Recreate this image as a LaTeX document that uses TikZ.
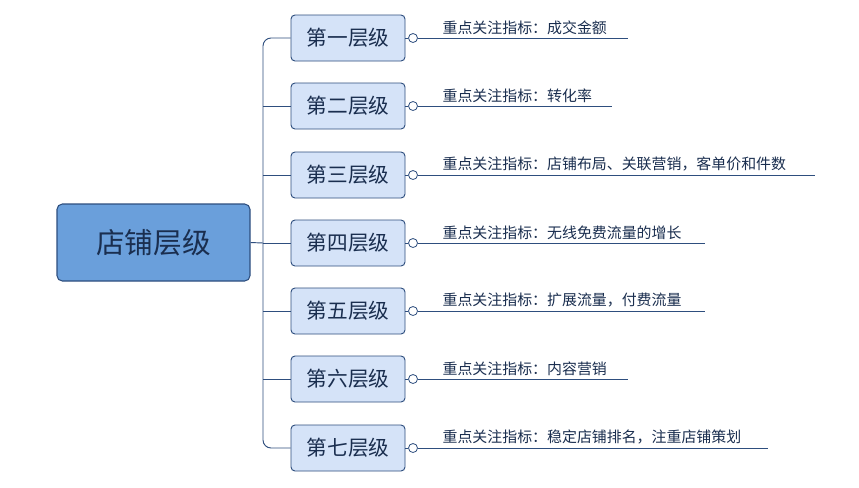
\documentclass[tikz,border=0pt]{standalone}
\usepackage{fontspec}
\setmainfont{Noto Sans CJK SC}
\begin{document}
\begin{tikzpicture}[x=0.75pt,y=-0.75pt,
  rootbox/.style={draw=linec,fill=rootf,rounded corners=4pt,minimum width=193*0.75pt,minimum height=77*0.75pt,font=\fontsize{21.5}{25}\selectfont,text=txt,line width=0.8pt},
  kid/.style={draw=linec,fill=kidf,rounded corners=3pt,minimum width=114*0.75pt,minimum height=46*0.75pt,font=\fontsize{15.5}{18}\selectfont,text=txt,line width=0.7pt},
  conn/.style={draw=linec,line width=0.7pt},
  lab/.style={anchor=south west,font=\fontsize{11.2}{13}\selectfont,text=txt,inner sep=1pt},
  knob/.style={circle,draw=linec,fill=white,inner sep=0pt,minimum size=9*0.75pt,line width=0.6pt}]
\definecolor{linec}{HTML}{2E4E7E}
\definecolor{rootf}{HTML}{6A9FDB}
\definecolor{kidf}{HTML}{D5E3F8}
\definecolor{txt}{HTML}{1A2E4F}
\useasboundingbox[fill=white] (0,0) rectangle (859,487);
\node[rootbox] (root) at (153.5,242.5) {店铺层级};
\coordinate (trunk) at (263,243);
\draw[conn] (root.east) -- (trunk);
\foreach \i/\y/\t/\l/\e in {1/38/第一层级/成交金额/628, 2/106/第二层级/转化率/612, 3/175/第三层级/店铺布局、关联营销，客单价和件数/815, 4/243/第四层级/无线免费流量的增长/705, 5/311/第五层级/扩展流量，付费流量/705, 6/379/第六层级/内容营销/628, 7/448/第七层级/稳定店铺排名，注重店铺策划/768}{
  \node[kid] (k\i) at (348,\y) {\t};
  \node[knob] (c\i) at (413,\y) {};
  \coordinate (e\i) at (\e,\y);
  \draw[conn] (k\i.east) -- (c\i.west);
  \draw[conn] (c\i.east) -- (e\i);
  \node[lab] (l\i) at (441,\y-2) {重点关注指标：\l};
}
\draw[conn,rounded corners=6pt] (k1.west) -- (263,38) -- (263,448) -- (k7.west);
\foreach \i in {2,...,6}{\draw[conn] (k\i.west) -- (trunk |- k\i.west);}
\end{tikzpicture}
\end{document}
